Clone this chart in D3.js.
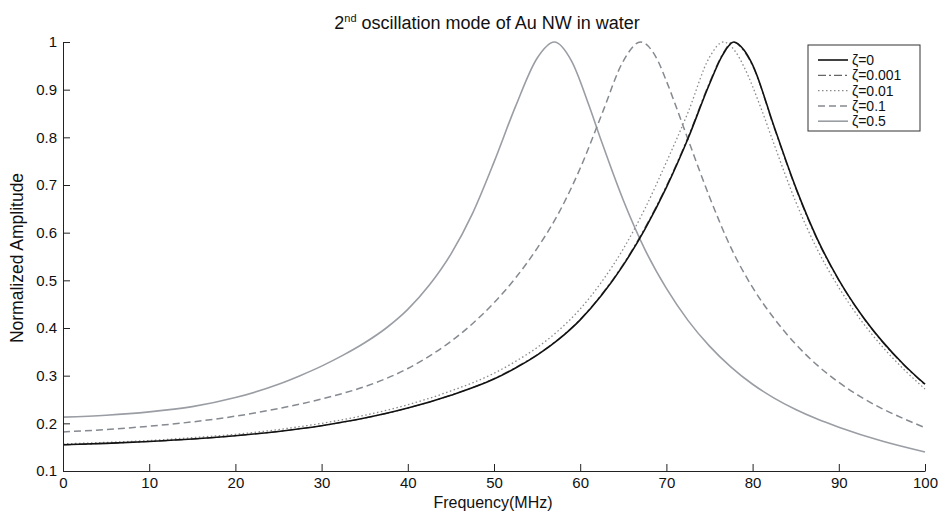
<!DOCTYPE html>
<html>
<head>
<meta charset="utf-8">
<script src="https://cdn.jsdelivr.net/npm/d3@7/dist/d3.min.js"></script>
<style>
  body { margin: 0; background: #fff; }
  svg { display: block; font-family: 'Liberation Sans', Arial, sans-serif; }
</style>
</head>
<body>
<svg id="chart" width="942" height="514"></svg>
<script>
// values
const freqZeta0 = [0, 5, 10, 15, 20, 25, 30, 35, 40, 45, 50, 52.5, 55, 57.5, 60, 62.5, 65, 67.5, 70, 72.5, 75, 76.5, 77.8, 79, 80, 82.5, 85, 87.5, 90, 92.5, 95, 97.5, 100]
const ampZeta0 = [0.155, 0.158, 0.162, 0.167, 0.174, 0.183, 0.195, 0.211, 0.232, 0.259, 0.293, 0.316, 0.343, 0.376, 0.417, 0.469, 0.532, 0.607, 0.695, 0.797, 0.912, 0.972, 1.0, 0.983, 0.952, 0.822, 0.695, 0.587, 0.501, 0.431, 0.373, 0.324, 0.282]

const freqZeta0001 = [0, 5, 10, 15, 20, 25, 30, 35, 40, 45, 50, 52.5, 55, 57.5, 60, 62.5, 65, 67.5, 70, 72.5, 75, 76.5, 77.7, 79, 80, 82.5, 85, 87.5, 90, 92.5, 95, 97.5, 100]
const ampZeta0001 = [0.155, 0.158, 0.162, 0.167, 0.174, 0.183, 0.195, 0.211, 0.232, 0.259, 0.294, 0.317, 0.344, 0.377, 0.418, 0.471, 0.534, 0.610, 0.698, 0.800, 0.915, 0.974, 1.0, 0.981, 0.950, 0.820, 0.693, 0.585, 0.500, 0.430, 0.372, 0.323, 0.281]

const freqZeta001 = [0, 5, 10, 15, 20, 25, 30, 35, 40, 45, 50, 52.5, 55, 57.5, 60, 62.5, 65, 67.5, 70, 72.5, 75, 76.6, 78, 79, 81, 82.5, 85, 87.5, 90, 92.5, 95, 97.5, 100]
const ampZeta001 = [0.157, 0.160, 0.164, 0.170, 0.177, 0.187, 0.200, 0.217, 0.239, 0.268, 0.305, 0.330, 0.359, 0.395, 0.440, 0.497, 0.566, 0.650, 0.748, 0.852, 0.968, 1.0, 0.980, 0.948, 0.860, 0.785, 0.665, 0.565, 0.485, 0.418, 0.362, 0.314, 0.272]

const freqZeta01 = [0, 5, 10, 15, 20, 25, 30, 32.5, 35, 37.5, 40, 42.5, 45, 47.5, 50, 52.5, 55, 57.5, 60, 62.5, 65, 67, 69, 70, 72.5, 75, 77.5, 80, 82.5, 85, 87.5, 90, 92.5, 95, 97.5, 100]
const ampZeta01 = [0.182, 0.187, 0.194, 0.203, 0.215, 0.231, 0.251, 0.263, 0.277, 0.294, 0.315, 0.341, 0.372, 0.409, 0.453, 0.505, 0.567, 0.641, 0.735, 0.848, 0.960, 1.0, 0.961, 0.918, 0.796, 0.675, 0.568, 0.485, 0.420, 0.366, 0.322, 0.286, 0.256, 0.231, 0.210, 0.191]

const freqZeta05 = [0, 5, 10, 15, 20, 25, 27.5, 30, 32.5, 35, 37.5, 40, 42.5, 45, 47.5, 50, 52.5, 55, 57, 59, 61, 62.5, 65, 67.5, 70, 72.5, 75, 77.5, 80, 82.5, 85, 87.5, 90, 95, 100]
const ampZeta05 = [0.213, 0.217, 0.224, 0.235, 0.254, 0.282, 0.300, 0.320, 0.343, 0.369, 0.400, 0.439, 0.490, 0.555, 0.640, 0.748, 0.865, 0.966, 1.0, 0.960, 0.868, 0.790, 0.668, 0.565, 0.483, 0.416, 0.362, 0.318, 0.282, 0.253, 0.229, 0.209, 0.192, 0.163, 0.140]

const legendLabels = ['ζ=0', 'ζ=0.001', 'ζ=0.01', 'ζ=0.1', 'ζ=0.5']
const xTicks = [0, 10, 20, 30, 40, 50, 60, 70, 80, 90, 100]
const yTicks = [0.1, 0.2, 0.3, 0.4, 0.5, 0.6, 0.7, 0.8, 0.9, 1]

const series = [
  { label: legendLabels[0], f: freqZeta0, a: ampZeta0, color: '#111', dash: null, width: 1.6 },
  { label: legendLabels[1], f: freqZeta0001, a: ampZeta0001, color: '#666', dash: '8,3,2,3', width: 1.2 },
  { label: legendLabels[2], f: freqZeta001, a: ampZeta001, color: '#8a8a8a', dash: '1.5,2.5', width: 1.3 },
  { label: legendLabels[3], f: freqZeta01, a: ampZeta01, color: '#858a90', dash: '7,4', width: 1.5 },
  { label: legendLabels[4], f: freqZeta05, a: ampZeta05, color: '#9a9ea4', dash: null, width: 1.6 }
]

const svg = d3.select('#chart')
const margin = { top: 42, right: 17, bottom: 43, left: 63 }
const width = 942, height = 514
const innerW = width - margin.left - margin.right
const innerH = height - margin.top - margin.bottom

const x = d3.scaleLinear().domain([0, 100]).range([0, innerW])
const y = d3.scaleLinear().domain([0.1, 1]).range([innerH, 0])

const g = svg.append('g').attr('transform', `translate(${margin.left},${margin.top})`)

// title
const title = svg.append('text')
  .attr('x', 487)
  .attr('y', 29)
  .attr('text-anchor', 'middle')
  .attr('font-size', 18)
  .attr('fill', '#111')
title.append('tspan').text('2')
title.append('tspan').attr('font-size', 11).attr('dy', -7).text('nd')
title.append('tspan').attr('dy', 7).text(' oscillation mode of Au NW in water')

// curves
const line = d3.line()
  .x(d => x(d[0]))
  .y(d => y(d[1]))
  .curve(d3.curveMonotoneX)

// draw back-to-front so the black line sits on top
series.slice().reverse().forEach(s => {
  g.append('path')
    .datum(s.f.map((f, i) => [f, s.a[i]]))
    .attr('d', line)
    .attr('fill', 'none')
    .attr('stroke', s.color)
    .attr('stroke-width', s.width)
    .attr('stroke-dasharray', s.dash)
})

// axes, ticks inward like matlab
const xAxis = d3.axisBottom(x).tickValues(xTicks).tickFormat(d3.format('d')).tickSizeInner(-7).tickSizeOuter(0).tickPadding(6)
const yAxis = d3.axisLeft(y).tickValues(yTicks).tickFormat(d => d === 1 ? '1' : d3.format('.1f')(d)).tickSizeInner(-7).tickSizeOuter(0).tickPadding(6)

const gx = g.append('g').attr('transform', `translate(0,${innerH})`).call(xAxis)
const gy = g.append('g').call(yAxis)
;[gx, gy].forEach(a => {
  a.select('.domain').attr('stroke', '#222').attr('stroke-width', 1)
  a.selectAll('.tick line').attr('stroke', '#222')
  a.selectAll('.tick text').attr('font-size', 15).attr('fill', '#111')
    .attr('font-family', "'Liberation Sans', Arial, sans-serif")
})

// axis labels
svg.append('text')
  .attr('x', 493)
  .attr('y', 508)
  .attr('text-anchor', 'middle')
  .attr('font-size', 16)
  .attr('fill', '#111')
  .text('Frequency(MHz)')

svg.append('text')
  .attr('transform', `translate(23,${258}) rotate(-90)`)
  .attr('text-anchor', 'middle')
  .attr('font-size', 17.5)
  .attr('fill', '#111')
  .text('Normalized Amplitude')

// legend
const lg = svg.append('g').attr('transform', 'translate(808,45)')
lg.append('rect')
  .attr('width', 112).attr('height', 86)
  .attr('fill', '#fff').attr('stroke', '#333').attr('stroke-width', 1)

series.forEach((s, i) => {
  const ly = 15 + i * 15.3
  lg.append('line')
    .attr('x1', 10).attr('x2', 40)
    .attr('y1', ly).attr('y2', ly)
    .attr('stroke', s.color)
    .attr('stroke-width', s.width)
    .attr('stroke-dasharray', s.dash)
  lg.append('text')
    .attr('x', 44).attr('y', ly + 5)
    .attr('font-size', 14)
    .attr('fill', '#111')
    .text(s.label)
})
</script>
</body>
</html>
